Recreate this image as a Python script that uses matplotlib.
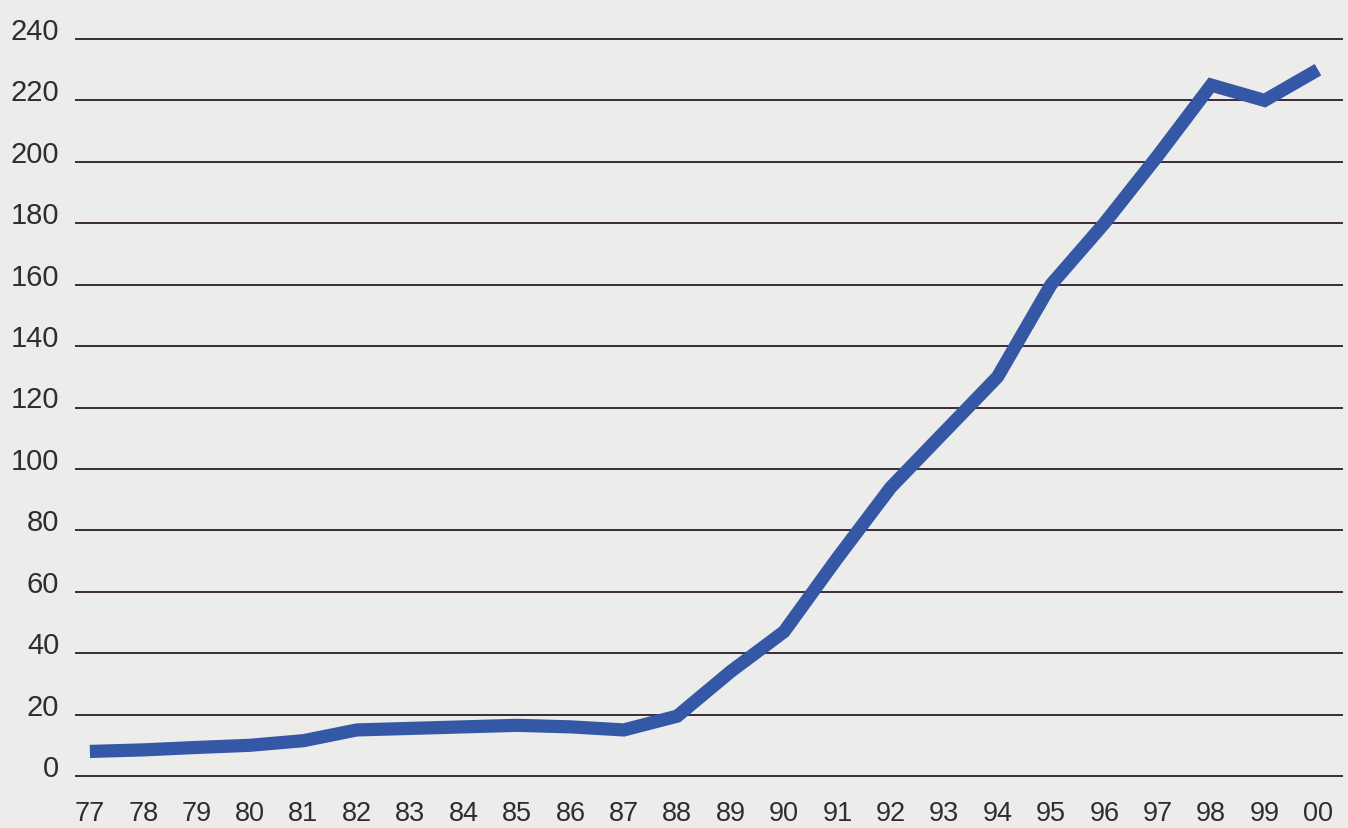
import matplotlib
matplotlib.use("Agg")
import matplotlib.pyplot as plt

years = ["77", "78", "79", "80", "81", "82", "83", "84", "85", "86", "87", "88",
         "89", "90", "91", "92", "93", "94", "95", "96", "97", "98", "99", "00"]
values = [8, 8.5, 9.3, 10, 11.5, 15, 15.5, 16, 16.5, 16, 15, 19.5,
          34, 47, 71, 94, 112, 130, 160, 180, 202, 225, 220, 230]
yticks = [0, 20, 40, 60, 80, 100, 120, 140, 160, 180, 200, 220, 240]

plt.rcParams['font.family'] = ['Liberation Sans', 'DejaVu Sans']
bg = "#ececeb"
fig = plt.figure(figsize=(13.48, 8.29), dpi=100, facecolor=bg)
ax = fig.add_axes([76/1348, 1 - 777/829, (1342 - 76)/1348, (777 - 40)/829])
ax.set_facecolor(bg)

x = list(range(len(years)))
for t in yticks:
    ax.axhline(t, color="#3b2b38", linewidth=1.4, clip_on=False, zorder=1)
ax.plot(x, values, color="#3558a6", linewidth=9.5, solid_joinstyle="miter",
        solid_capstyle="butt", zorder=3)

ax.set_xlim(-0.26, 23.45)
ax.set_ylim(0, 240)
ax.set_xticks(x)
ax.set_xticklabels(years)
ax.set_yticks(yticks)
ax.set_yticklabels([str(t) for t in yticks])
for s in ax.spines.values():
    s.set_visible(False)
ax.tick_params(axis="both", length=0, labelcolor="#2e2e2e")
ax.tick_params(axis="x", pad=17, labelsize=19.5)
ax.tick_params(axis="y", pad=12, labelsize=21)
for lab in ax.get_yticklabels():
    lab.set_verticalalignment("baseline")

fig.savefig("out.png", dpi=100, facecolor=bg)
